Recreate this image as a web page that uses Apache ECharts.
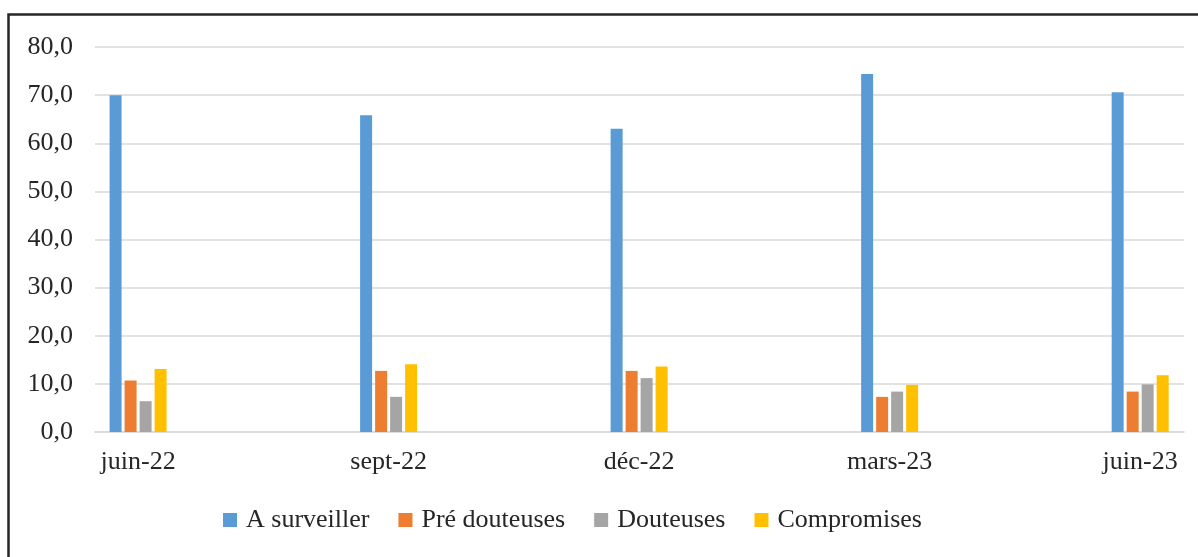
<!DOCTYPE html>
<html>
<head>
<meta charset="utf-8">
<script src="https://cdn.jsdelivr.net/npm/echarts@6/dist/echarts.min.js"></script>
<style>
html,body{margin:0;padding:0;background:#fff;}
#chart{width:1198px;height:557px;}
</style>
</head>
<body>
<div id="chart"></div>
<script>
const categories = ['juin-22', 'sept-22', 'déc-22', 'mars-23', 'juin-23'];
const aSurveiller = [70.0, 65.8, 63.0, 74.4, 70.6];
const preDouteuses = [10.7, 12.7, 12.7, 7.3, 8.4];
const douteuses = [6.4, 7.3, 11.2, 8.4, 9.9];
const compromises = [13.1, 14.1, 13.6, 9.8, 11.8];
const seriesNames = ['A surveiller', 'Pré douteuses', 'Douteuses', 'Compromises'];
const yTicks = [0, 10, 20, 30, 40, 50, 60, 70, 80];

const colors = ['#5B9BD5', '#ED7D31', '#A5A5A5', '#FFC000'];
const font = "'Liberation Serif', 'DejaVu Serif', serif";
const textColor = '#262626';

const chart = echarts.init(document.getElementById('chart'));
const toPairs = arr => arr.map((v, i) => [i, v]);
const allSeries = [aSurveiller, preDouteuses, douteuses, compromises];

chart.setOption({
  animation: false,
  color: colors,
  graphic: [{
    type: 'rect',
    left: 6, top: 12,
    shape: { width: 1300, height: 700 },
    style: { fill: 'none', stroke: '#262626', lineWidth: 2.5 },
    silent: true
  }],
  grid: { left: 95, right: 14, top: 47, bottom: 125, containLabel: false },
  legend: {
    data: seriesNames,
    left: 223, top: 507,
    padding: 0,
    itemWidth: 14, itemHeight: 14, itemGap: 29,
    icon: 'rect',
    textStyle: { fontFamily: font, fontSize: 26, color: textColor, padding: [0, 0, 0, 4] }
  },
  xAxis: {
    type: 'value',
    min: -0.172, max: 4.175,
    splitLine: { show: false },
    axisTick: { show: false },
    axisLine: { show: true, lineStyle: { color: '#D9D9D9', width: 1.5 } },
    axisLabel: {
      customValues: categories.map((c, i) => i),
      formatter: v => categories[Math.round(v)] || '',
      fontFamily: font, fontSize: 26, color: textColor, margin: 17
    }
  },
  yAxis: {
    type: 'value',
    min: 0, max: 80, interval: 10,
    axisLine: { show: false },
    axisTick: { show: false },
    splitLine: { lineStyle: { color: '#D9D9D9', width: 1.5 } },
    axisLabel: {
      customValues: yTicks,
      formatter: v => v.toFixed(1).replace('.', ','),
      fontFamily: font, fontSize: 26, color: textColor, margin: 22
    }
  },
  series: allSeries.map((arr, k) => ({
    name: seriesNames[k],
    type: 'bar',
    data: toPairs(arr),
    barWidth: 12,
    barGap: '25%'
  }))
});
</script>
</body>
</html>
